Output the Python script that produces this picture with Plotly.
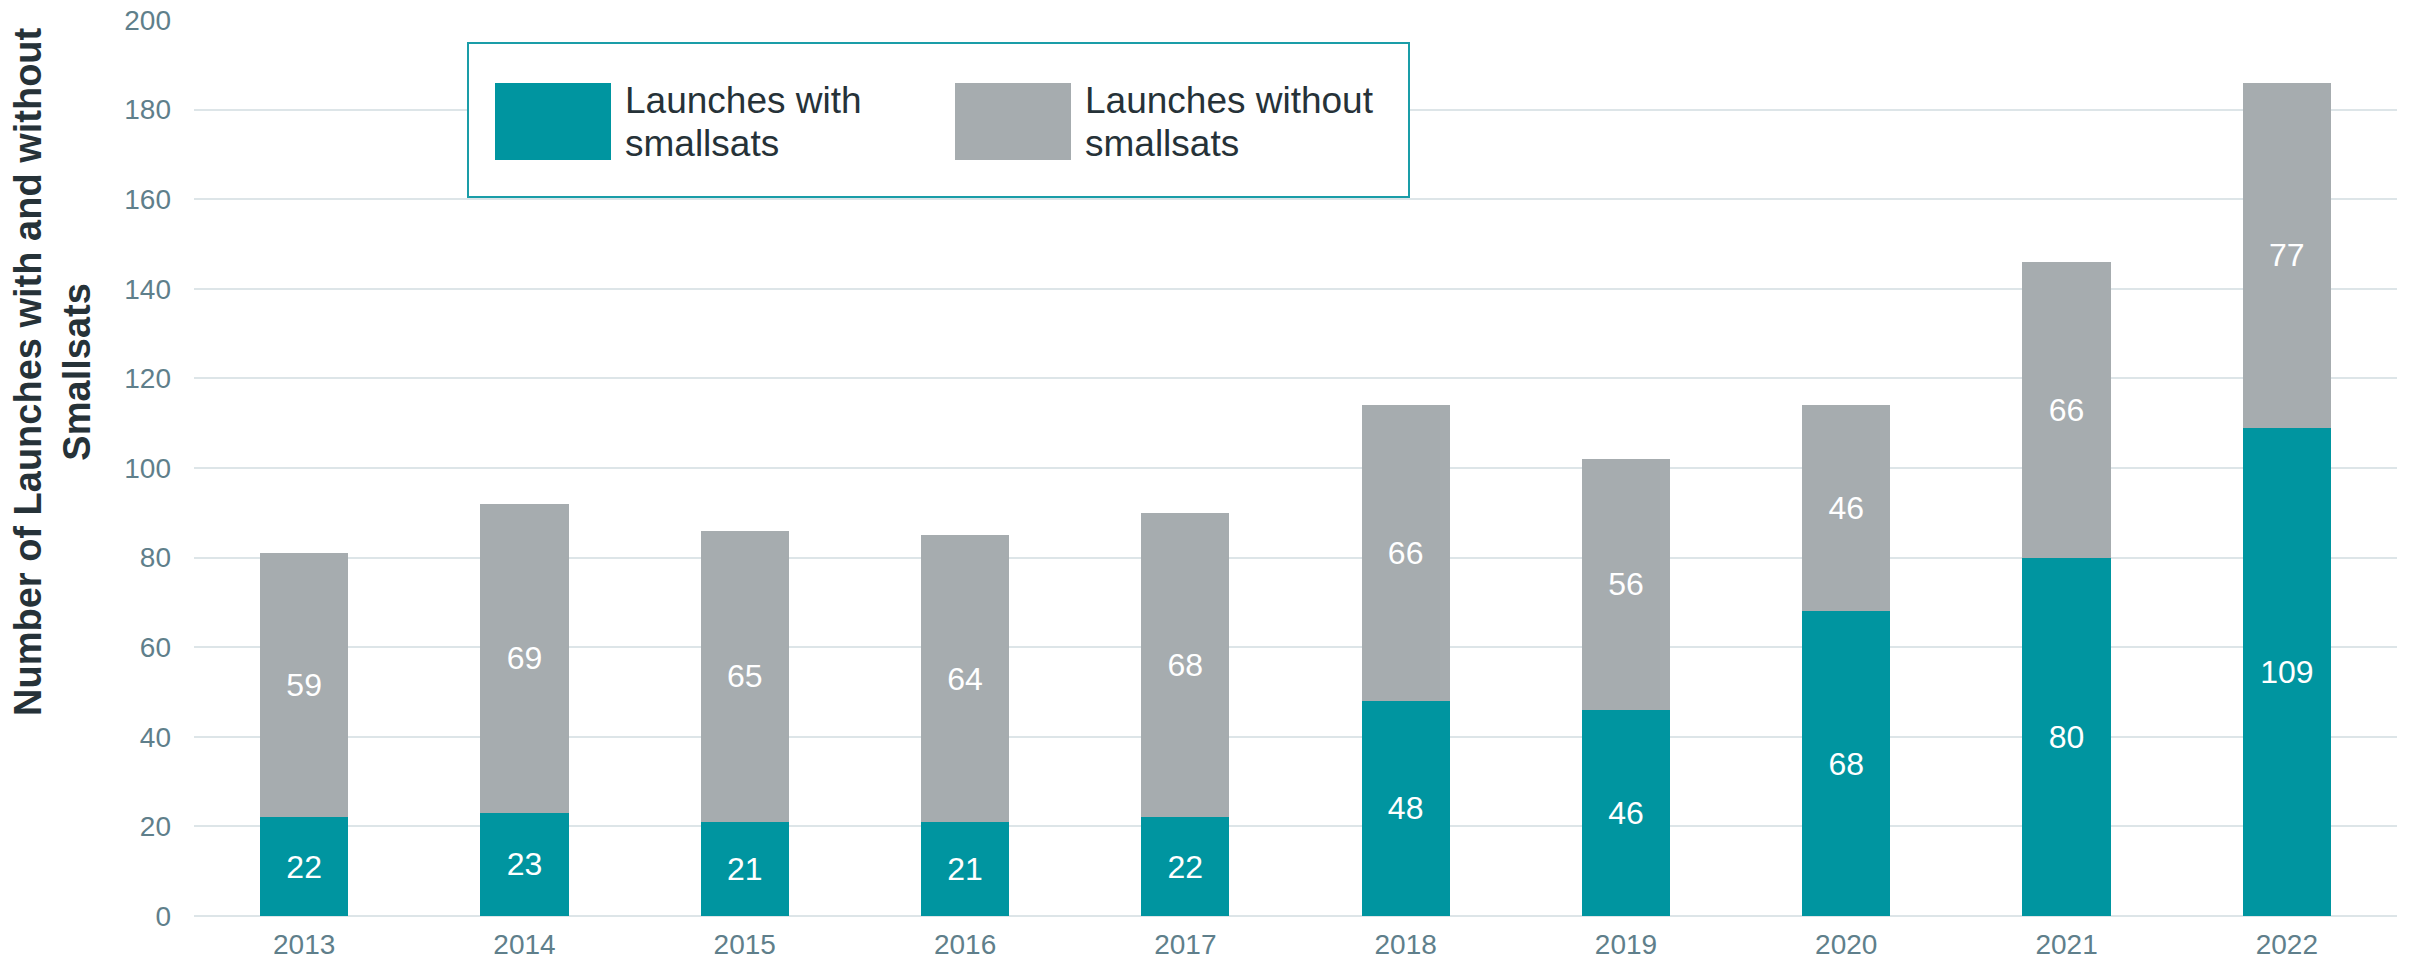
import plotly.graph_objects as go

# Launch counts per year
years = ["2013", "2014", "2015", "2016", "2017", "2018", "2019", "2020", "2021", "2022"]
with_smallsats = [22, 23, 21, 21, 22, 48, 46, 68, 80, 109]
without_smallsats = [59, 69, 65, 64, 68, 66, 56, 46, 66, 77]

series_names = ["Launches with<br>smallsats", "Launches without<br>smallsats"]
series_colors = ["#0095A0", "#A6ACAF"]

W, H = 2412, 964
M_L, M_R, M_T, M_B = 194, 15, 20, 48
PLOT_W = W - M_L - M_R
PLOT_H = H - M_T - M_B

FONT = "Liberation Sans, Arial, sans-serif"
TICK_COLOR = "#5F7F8B"
TEXT_DARK = "#263238"


def px_x(x):
    return (x - M_L) / PLOT_W


def px_y(y):
    return (H - M_B - y) / PLOT_H


fig = go.Figure()
for name, vals, col in zip(series_names, [with_smallsats, without_smallsats], series_colors):
    fig.add_trace(go.Bar(
        x=years, y=vals, name=name.replace("<br>", " "),
        marker=dict(color=col, line=dict(width=0)),
        text=[str(v) for v in vals],
        textposition="inside", insidetextanchor="middle",
        textfont=dict(family=FONT, size=32, color="white"),
        textangle=0,
        showlegend=False,
    ))

# Custom legend: framed box with large colour swatches
shapes = [dict(type="rect", xref="paper", yref="paper",
               x0=px_x(468), x1=px_x(1409), y0=px_y(197), y1=px_y(43),
               line=dict(color="#1A9DA8", width=2), fillcolor="white", layer="above")]
annotations = []
swatch_x = [495, 955]
for i, (name, col) in enumerate(zip(series_names, series_colors)):
    sx = swatch_x[i]
    shapes.append(dict(type="rect", xref="paper", yref="paper",
                       x0=px_x(sx), x1=px_x(sx + 116), y0=px_y(160), y1=px_y(83),
                       line=dict(width=0), fillcolor=col, layer="above"))
    for j, line in enumerate(name.split("<br>")):
        annotations.append(dict(
            xref="paper", yref="paper", x=px_x(sx + 128), y=px_y(100 + 43 * j),
            xanchor="left", yanchor="middle", showarrow=False,
            text=line, font=dict(family=FONT, size=37, color=TEXT_DARK)))

# Y-axis title (two lines, rotated)
annotations.append(dict(
    xref="paper", yref="paper", x=px_x(52), y=px_y(372),
    xanchor="center", yanchor="middle", showarrow=False, textangle=-90,
    text="<b>Number of Launches with and without<br>Smallsats</b>",
    font=dict(family=FONT, size=38, color=TEXT_DARK)))

fig.update_layout(
    barmode="stack",
    bargap=0.6,
    width=W, height=H,
    margin=dict(l=M_L, r=M_R, t=M_T, b=M_B, autoexpand=False),
    paper_bgcolor="white", plot_bgcolor="white",
    font=dict(family=FONT),
    shapes=shapes,
    annotations=annotations,
    xaxis=dict(
        automargin=False,
        showgrid=False, showline=False, zeroline=False,
        tickfont=dict(family=FONT, size=28, color=TICK_COLOR),
        ticks="", ticklabelstandoff=9,
    ),
    yaxis=dict(
        automargin=False,
        range=[0, 200], dtick=20,
        showgrid=True, gridcolor="#DDE5E8", gridwidth=2,
        zeroline=True, zerolinecolor="#DDE5E8", zerolinewidth=2,
        showline=False,
        tickfont=dict(family=FONT, size=28, color=TICK_COLOR),
        ticks="", ticklabelstandoff=22,
    ),
)

fig.write_html("out.html")
